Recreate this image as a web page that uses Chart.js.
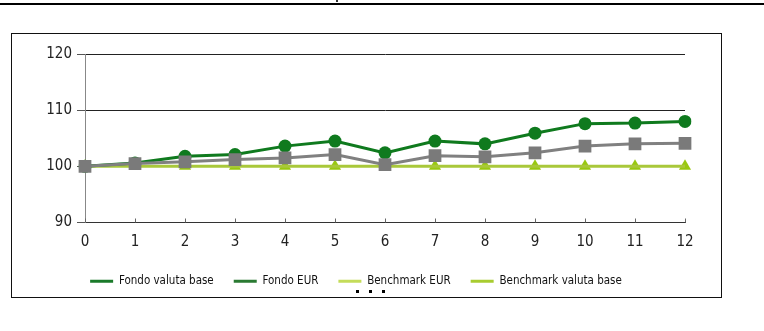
<!DOCTYPE html>
<html><head><meta charset="utf-8">
<script src="https://cdn.jsdelivr.net/npm/chart.js@4.4.0/dist/chart.umd.min.js"></script>
<style>
html,body{margin:0;padding:0;background:#fff;width:764px;height:331px;overflow:hidden;position:relative;}
#rule{position:absolute;left:0;top:3px;width:764px;height:2px;background:#000;}
#mark{position:absolute;left:336px;top:0;width:2px;height:2px;background:#333;}
#frame{position:absolute;left:11px;top:33px;width:711px;height:265px;border:1px solid #111;box-sizing:border-box;}
#wrap{position:absolute;left:12px;top:34px;width:709px;height:263px;}
.dot{position:absolute;width:3px;height:3px;background:#000;top:290px;}
</style></head><body>
<div id="rule"></div><div id="mark"></div><div id="frame"></div>
<div id="wrap"><canvas id="c" width="709" height="263"></canvas></div>
<div class="dot" style="left:356px"></div><div class="dot" style="left:369px"></div><div class="dot" style="left:382px"></div>
<script>
const categories = ['0','1','2','3','4','5','6','7','8','9','10','11','12'];
const fondoValutaBase = [100, 100.6, 101.8, 102.1, 103.6, 104.5, 102.4, 104.5, 104.0, 105.9, 107.6, 107.7, 108.0];
const fondoEUR = [100, 100.5, 100.8, 101.2, 101.5, 102.1, 100.3, 101.9, 101.7, 102.4, 103.6, 104.0, 104.1];
const benchmarkEUR = [100, 100, 100, 100, 100, 100, 100, 100, 100, 100, 100, 100, 100];
const benchmarkValutaBase = [100, 100, 100, 100, 100, 100, 100, 100, 100, 100, 100, 100, 100];
const seriesNames = ['Fondo valuta base', 'Fondo EUR', 'Benchmark EUR', 'Benchmark valuta base'];
const legendColors = ['#1a7a2a', '#2a7a32', '#c4dc5a', '#a8cc30'];
const yTicks = [90, 100, 110, 120];

const FONT = "'DejaVu Sans Condensed', 'Liberation Sans Narrow', sans-serif";

const innerTicks = {
  id: 'innerTicks',
  afterDraw(chart) {
    const xs = chart.scales.x, ctx = chart.ctx, b = chart.chartArea.bottom;
    ctx.save();
    ctx.strokeStyle = '#666';
    ctx.lineWidth = 1;
    for (let i = 0; i < categories.length; i++) {
      const x = Math.round(xs.getPixelForTick(i)) + 0.5;
      ctx.beginPath(); ctx.moveTo(x, b - 4); ctx.lineTo(x, b); ctx.stroke();
    }
    ctx.restore();
  }
};

new Chart(document.getElementById('c'), {
  type: 'line',
  data: {
    labels: categories,
    datasets: [
      { label: seriesNames[0], data: fondoValutaBase, borderColor: '#0f7a1e', backgroundColor: '#0f7a1e',
        borderWidth: 3, pointStyle: 'circle', pointRadius: 6.5, pointBorderWidth: 0, order: 1 },
      { label: seriesNames[1], data: fondoEUR, borderColor: '#808080', backgroundColor: '#7a7a7a',
        borderWidth: 3, pointStyle: 'rect', pointRadius: 9, pointBorderWidth: 0, order: 0 },
      { label: seriesNames[2], data: benchmarkEUR, borderColor: '#a9c83a', backgroundColor: '#a9c83a',
        borderWidth: 3, pointRadius: 0, order: 2 },
      { label: seriesNames[3], data: benchmarkValutaBase, borderColor: '#99c810', backgroundColor: '#99c810',
        borderWidth: 0, showLine: false, pointStyle: 'triangle', pointRadius: 7, pointBorderWidth: 0, order: 3 }
    ]
  },
  options: {
    responsive: false,
    animation: false,
    events: [],
    layout: { padding: { left: 15, right: 36, top: 20, bottom: 0 } },
    plugins: {
      tooltip: { enabled: false },
      legend: {
        position: 'bottom',
        maxHeight: 42,
        labels: {
          usePointStyle: true,
          pointStyle: 'line',
          pointStyleWidth: 23,
          padding: 20,
          color: '#111',
          font: { family: FONT, size: 11.5 },
          generateLabels: () => seriesNames.map((n, i) => ({
            text: n, fillStyle: legendColors[i], strokeStyle: legendColors[i], lineWidth: 3,
            pointStyle: 'line', hidden: false, datasetIndex: i, fontColor: '#111'
          }))
        }
      }
    },
    scales: {
      x: {
        offset: false,
        grid: { display: false },
        border: { display: true, color: '#333', width: 1 },
        ticks: { padding: 3, color: '#222', font: { family: FONT, size: 15 }, maxRotation: 0, autoSkip: false },
        afterFit: s => { s.height = 33; }
      },
      y: {
        min: 90, max: 120,
        afterBuildTicks: s => { s.ticks = yTicks.map(v => ({ value: v })); },
        grid: { color: '#222', lineWidth: 1, tickLength: 8, tickColor: '#555' },
        border: { display: true, color: '#888', width: 1 },
        ticks: { padding: 5, color: '#222', font: { family: FONT, size: 15 } },
        afterFit: s => { s.width = 58; }
      }
    }
  },
  plugins: [innerTicks]
});
</script>
</body></html>
